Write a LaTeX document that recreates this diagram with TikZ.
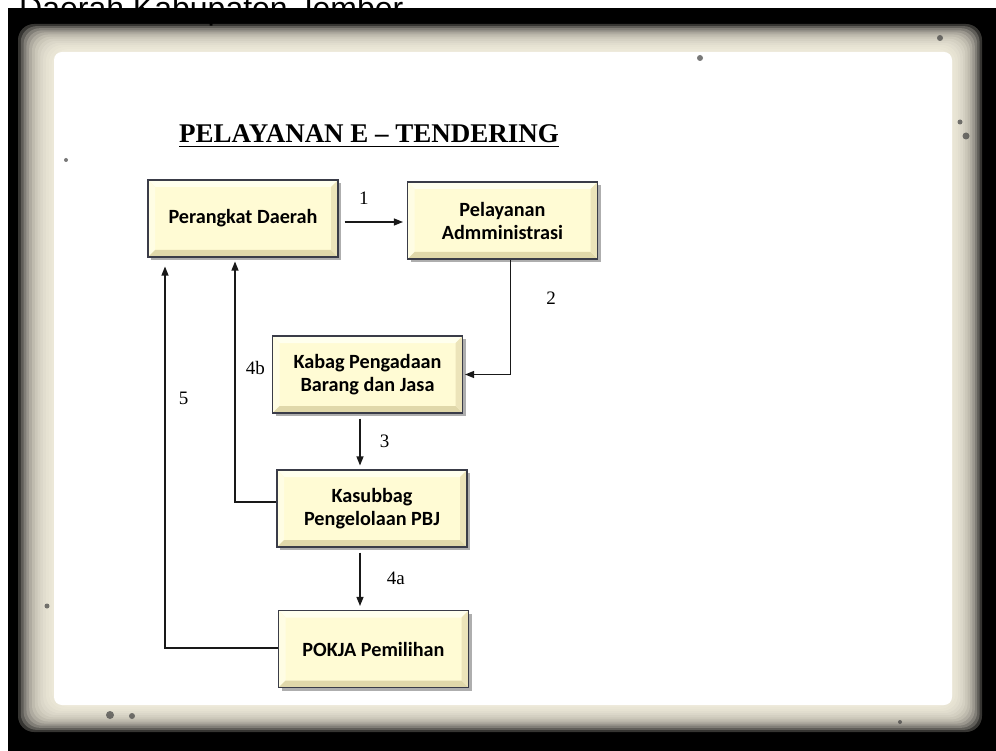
\documentclass[tikz,border=0pt]{standalone}
\usepackage{fontspec}
\setmainfont{Liberation Serif}
\newfontfamily\boxfont{Carlito}
\newfontfamily\headfont{Liberation Sans}
\usetikzlibrary{arrows.meta,shadows}

\definecolor{boxfill}{RGB}{255,251,212}
\definecolor{bevtop}{RGB}{255,255,238}
\definecolor{bevleft}{RGB}{255,253,228}
\definecolor{bevbot}{RGB}{224,216,170}
\definecolor{bevright}{RGB}{236,228,186}
\definecolor{boxline}{RGB}{58,60,72}
\definecolor{frametone}{RGB}{248,244,228}

% bevelled face of a box
\newcommand{\boxbevel}{%
  \path (path picture bounding box.north west) coordinate (nw)
        (path picture bounding box.north east) coordinate (ne)
        (path picture bounding box.south west) coordinate (sw)
        (path picture bounding box.south east) coordinate (se);
  \fill[bevtop] (nw) -- (ne) -- ([shift={(-7pt,-7pt)}]ne) -- ([shift={(7pt,-7pt)}]nw) -- cycle;
  \fill[bevleft] (nw) -- (sw) -- ([shift={(7pt,7pt)}]sw) -- ([shift={(7pt,-7pt)}]nw) -- cycle;
  \fill[bevbot] (sw) -- (se) -- ([shift={(-7pt,7pt)}]se) -- ([shift={(7pt,7pt)}]sw) -- cycle;
  \fill[bevright] (se) -- (ne) -- ([shift={(-7pt,-7pt)}]ne) -- ([shift={(-7pt,7pt)}]se) -- cycle;
}

\begin{document}
\begin{tikzpicture}[x=1pt, y=-1pt,
    procbox/.style={draw=boxline, line width=1.1pt, fill=boxfill,
        minimum width=190pt, minimum height=77pt, align=center,
        font=\boxfont\bfseries\fontsize{20.2}{23}\selectfont,
        drop shadow={shadow xshift=3pt, shadow yshift=-3pt, opacity=.45, fill=black!70},
        path picture={\boxbevel}},
    flow/.style={line width=1.2pt, draw=black!90,
        -{Triangle[length=9pt, width=7pt]}},
    num/.style={font=\fontsize{19}{21}\selectfont}]
    \useasboundingbox (0,0) rectangle (996,751);
    % grunge frame
    \fill[white] (0,0) rectangle (996,751);
    \fill[black] (8,8) rectangle (996,751);
    \foreach \i in {0,...,12}
        \fill[frametone, opacity=.22, rounded corners=16pt]
            ({18+2.8*\i},{24+2.1*\i}) rectangle ({982-2.4*\i},{732-2.1*\i});
    \fill[white, rounded corners=8pt] (54,52) rectangle (952,705);
    \foreach \sx/\sy/\sr in {110/715/4, 132/716/3, 47/606/2.5, 66/160/2, 940/38/3, 966/136/3.5, 960/122/2.5, 700/58/3, 900/722/2}
        \fill[black!75, opacity=.7] (\sx,\sy) circle(\sr);
    \node[font=\headfont\fontsize{32}{34}\selectfont, anchor=base west, inner sep=0pt]
        (header) at (19,20) {Daerah Kabupaten Jember};

    % title
    \node[font=\bfseries\fontsize{27}{30}\selectfont, anchor=base west, inner sep=0pt]
        (title) at (179,143) {PELAYANAN E -- TENDERING};
    \draw[line width=1.4pt]
        ([yshift=-3.5pt]title.base west) -- ([yshift=-3.5pt]title.base east);

    % boxes
    \node[procbox] (perangkat) at (243,218.5) {Perangkat Daerah};
    \node[procbox] (pelayanan) at (502.5,220.5) {Pelayanan\\Admministrasi};
    \node[procbox] (kabag) at (367.5,374.5) {Kabag Pengadaan\\Barang dan Jasa};
    \node[procbox] (kasubbag) at (372,508.5) {Kasubbag\\Pengelolaan PBJ};
    \node[procbox] (pokja) at (373.5,649) {POKJA Pemilihan};

    % connectors
    \draw[flow, shorten <=6pt, shorten >=4pt]
        ([yshift=-3.5pt]perangkat.east) -- ([yshift=-3.5pt]perangkat.east -| pelayanan.west)
        node[num, midway, above=14pt, xshift=-9pt] {1};
    \draw[flow, shorten >=2pt]
        ([xshift=8pt]pelayanan.south) |- (kabag.east)
        node[num, pos=.17, right=32pt] {2};
    \draw[flow, shorten <=5pt, shorten >=4pt]
        ([xshift=-7.5pt]kabag.south) -- ([xshift=-7.5pt]kabag.south |- kasubbag.north)
        node[num, midway, right=16pt] {3};
    \draw[flow, shorten <=5pt, shorten >=4pt]
        ([xshift=-12pt]kasubbag.south) -- ([xshift=-12pt]kasubbag.south |- pokja.north)
        node[num, midway, right=23pt] {4a};
    \draw[flow, shorten >=4pt]
        ([yshift=6.5pt]kasubbag.west) -| ([xshift=-8pt]perangkat.south)
        node[num, pos=.775, right=7pt] {4b};
    \draw[flow, shorten >=9pt]
        ([yshift=1pt]pokja.west) -| ([xshift=-78pt]perangkat.south)
        node[num, pos=.82, right=10pt] {5};
\end{tikzpicture}
\end{document}
